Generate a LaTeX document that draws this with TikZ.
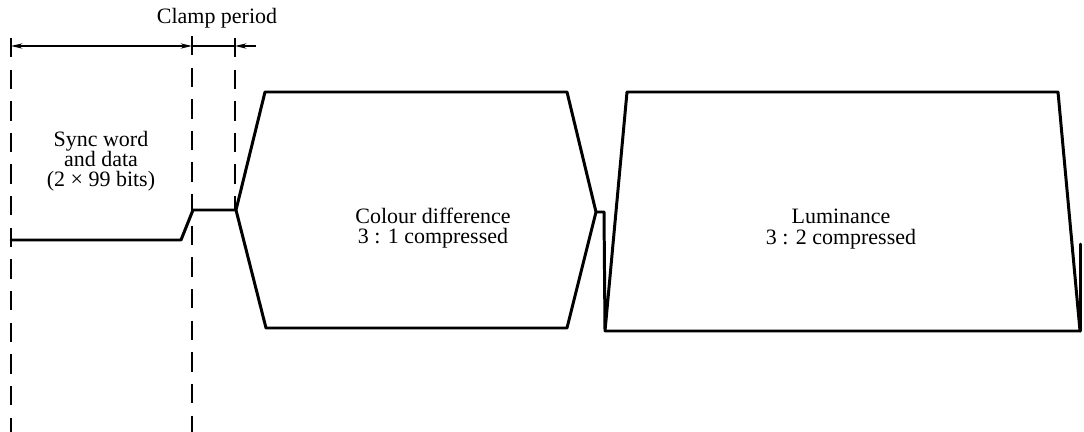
\documentclass[tikz,border=0pt]{standalone}
\usepackage{fontspec}
\setmainfont{Liberation Serif}
\usetikzlibrary{arrows.meta}

\begin{document}
\begin{tikzpicture}[x=0.02cm,y=-0.02cm]
\tikzset{
  wave/.style={draw=black,line width=1.7pt,line cap=round,line join=round},
  guide/.style={draw=black,line width=1.1pt,dash pattern=on 11pt off 7pt},
  dimline/.style={draw=black,line width=0.8pt},
  dimarrow/.style={dimline,-{Stealth[length=6.5pt,width=3pt]}},
  dimboth/.style={dimline,{Stealth[length=6.5pt,width=3pt]}-{Stealth[length=6.5pt,width=3pt]}},
  label/.style={align=center,font=\fontsize{12.5}{11.5}\selectfont,inner sep=1pt}
}
\useasboundingbox (0,0) rectangle (1084,432);
% time marks
\coordinate (g_start) at (11,38);
\coordinate (g_clamp) at (192,36);
\coordinate (g_end) at (235,38);
\coordinate (g_startb) at (11,432);
\coordinate (g_clampb) at (192,432);
\coordinate (g_endb) at (235,210);
\draw[guide] (g_start) -- (g_startb);
\draw[guide] (g_clamp) -- (g_clampb);
\draw[guide] (g_end) -- (g_endb);
% dimension line
\coordinate (d_start) at (11,46);
\coordinate (d_clamp) at (192,46);
\coordinate (d_end) at (235,46);
\coordinate (d_out) at (256,46);
\draw[dimboth] (d_start) -- (d_clamp);
\draw[dimline] (d_clamp) -- (d_end);
\draw[dimarrow] (d_out) -- (d_end);
\node[label] (l_clamp) at (217,18) {Clamp period};
% sync and clamp level
\coordinate (w_0) at (11,240);
\coordinate (w_1) at (181,240);
\coordinate (w_2) at (193,210);
\coordinate (w_3) at (236,210);
\draw[wave] (w_0) -- (w_1) -- (w_2) -- (w_3);
% colour difference
\coordinate (c_tl) at (265,92);
\coordinate (c_tr) at (567,92);
\coordinate (c_r) at (596,212);
\coordinate (c_br) at (567,328);
\coordinate (c_bl) at (266,328);
\draw[wave] (w_3) -- (c_tl) -- (c_tr) -- (c_r) -- (c_br) -- (c_bl) -- cycle;
% luminance
\coordinate (y_0) at (604,212);
\coordinate (y_bl) at (605,331);
\coordinate (y_tl) at (627,92);
\coordinate (y_tr) at (1058,92);
\coordinate (y_br) at (1080,331);
\coordinate (y_end) at (1080,244);
\draw[wave] (c_r) -- (y_0) -- (y_bl) -- (y_tl) -- (y_tr) -- (y_br) -- (y_bl);
\draw[wave] (y_br) -- (y_end);
% texts
\node[label] (l_sync) at (101,161) {Sync word\\and data\\(2 × 99 bits)};
\node[label] (l_colour) at (433,228) {Colour difference\\3 : 1 compressed};
\node[label] (l_lum) at (841,229) {Luminance\\3 : 2 compressed};
\end{tikzpicture}
\end{document}
